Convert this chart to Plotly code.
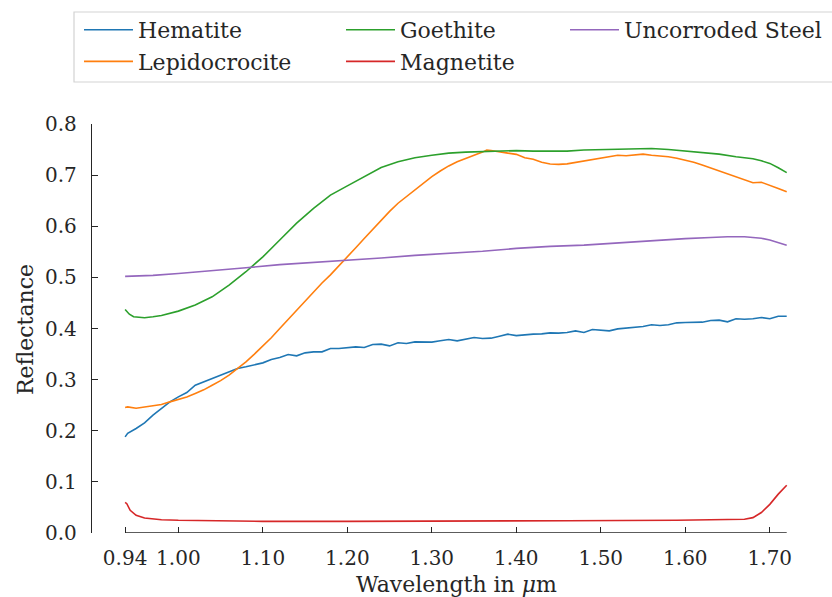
import plotly.graph_objects as go

# ---------------- data ----------------
wl_hem = [0.937, 0.94, 0.95, 0.96, 0.97, 0.98, 0.99, 1.00, 1.01, 1.02, 1.03, 1.04, 1.05, 1.06, 1.07, 1.08,
          1.09, 1.10, 1.11, 1.12, 1.13, 1.14, 1.15, 1.16, 1.17, 1.18, 1.19, 1.20, 1.21, 1.22, 1.23, 1.24,
          1.25, 1.26, 1.27, 1.28, 1.29, 1.30, 1.31, 1.32, 1.33, 1.34, 1.35, 1.36, 1.37, 1.38, 1.39, 1.40,
          1.41, 1.42, 1.43, 1.44, 1.45, 1.46, 1.47, 1.48, 1.49, 1.50, 1.51, 1.52, 1.53, 1.54, 1.55, 1.56,
          1.57, 1.58, 1.59, 1.60, 1.61, 1.62, 1.63, 1.64, 1.65, 1.66, 1.67, 1.68, 1.69, 1.70, 1.71, 1.72]
hematite = [0.188, 0.195, 0.2045, 0.2153, 0.2304, 0.2435, 0.2565, 0.2662, 0.2747, 0.289, 0.2956, 0.3034,
            0.3087, 0.3165, 0.3218, 0.3251, 0.3283, 0.3328, 0.3394, 0.3433, 0.3491, 0.3465, 0.3524, 0.3543,
            0.3543, 0.3609, 0.361, 0.3622, 0.3641, 0.3628, 0.3687, 0.3694, 0.366, 0.372, 0.3707, 0.3739,
            0.3733, 0.3733, 0.3759, 0.3785, 0.3759, 0.3785, 0.3824, 0.3805, 0.3811, 0.385, 0.3889, 0.386,
            0.388, 0.389, 0.3895, 0.3915, 0.391, 0.3922, 0.3954, 0.3922, 0.398, 0.397, 0.3954, 0.3993,
            0.401, 0.402, 0.404, 0.4072, 0.406, 0.4072, 0.4111, 0.4117, 0.412, 0.4124, 0.4157, 0.4163,
            0.413, 0.419, 0.418, 0.419, 0.4215, 0.419, 0.4241, 0.4241]

wl_lep = [0.937, 0.94, 0.95, 0.96, 0.97, 0.98, 0.99, 1.00, 1.01, 1.02, 1.03, 1.04, 1.05, 1.06, 1.07, 1.08,
          1.09, 1.10, 1.11, 1.12, 1.13, 1.14, 1.15, 1.16, 1.17, 1.18, 1.19, 1.20, 1.21, 1.22, 1.23, 1.24,
          1.25, 1.26, 1.27, 1.28, 1.29, 1.30, 1.31, 1.32, 1.33, 1.34, 1.35, 1.36, 1.365, 1.37, 1.38, 1.39,
          1.40, 1.41, 1.42, 1.43, 1.44, 1.45, 1.46, 1.47, 1.48, 1.49, 1.50, 1.51, 1.52, 1.53, 1.54, 1.55,
          1.56, 1.57, 1.58, 1.59, 1.60, 1.61, 1.62, 1.63, 1.64, 1.65, 1.66, 1.67, 1.68, 1.69, 1.70, 1.71, 1.72]
lepidocrocite = [0.2454, 0.2467, 0.244, 0.2467, 0.248, 0.2513, 0.2565, 0.2611, 0.266, 0.2728, 0.280, 0.289,
                 0.298, 0.3087, 0.321, 0.3347, 0.350, 0.3654, 0.382, 0.400, 0.418, 0.436, 0.454, 0.472,
                 0.489, 0.505, 0.522, 0.541, 0.558, 0.576, 0.594, 0.612, 0.629, 0.645, 0.658, 0.671,
                 0.685, 0.697, 0.708, 0.718, 0.726, 0.733, 0.739, 0.745, 0.749, 0.748, 0.745, 0.743,
                 0.7406, 0.734, 0.731, 0.725, 0.7217, 0.721, 0.722, 0.725, 0.7275, 0.731, 0.733, 0.736,
                 0.739, 0.738, 0.739, 0.741, 0.739, 0.738, 0.736, 0.733, 0.7295, 0.725, 0.7197, 0.714,
                 0.7086, 0.703, 0.698, 0.692, 0.685, 0.686, 0.6806, 0.674, 0.6675]

wl_goe = [0.937, 0.939, 0.942, 0.947, 0.96, 0.97, 0.98, 1.00, 1.02, 1.04, 1.06, 1.08, 1.10, 1.12, 1.14,
          1.16, 1.18, 1.20, 1.22, 1.24, 1.26, 1.28, 1.30, 1.32, 1.34, 1.36, 1.38, 1.40, 1.42, 1.44, 1.46,
          1.48, 1.50, 1.52, 1.54, 1.56, 1.58, 1.60, 1.62, 1.64, 1.66, 1.68, 1.69, 1.70, 1.71, 1.72]
goethite = [0.437, 0.434, 0.428, 0.423, 0.421, 0.423, 0.4255, 0.434, 0.446, 0.462, 0.485, 0.511, 0.540,
            0.573, 0.606, 0.635, 0.661, 0.679, 0.697, 0.715, 0.726, 0.734, 0.739, 0.743, 0.745, 0.746,
            0.747, 0.748, 0.747, 0.747, 0.747, 0.749, 0.750, 0.751, 0.752, 0.752, 0.750, 0.747, 0.744,
            0.741, 0.736, 0.732, 0.728, 0.723, 0.7145, 0.705]

wl_mag = [0.937, 0.939, 0.943, 0.95, 0.96, 0.97, 0.98, 1.00, 1.04, 1.10, 1.20, 1.30, 1.40, 1.46, 1.59,
          1.66, 1.67, 1.68, 1.69, 1.70, 1.71, 1.72]
magnetite = [0.060, 0.0574, 0.0444, 0.0346, 0.0294, 0.0274, 0.026, 0.0248, 0.0241, 0.0228, 0.0228,
             0.0228, 0.0235, 0.024, 0.0248, 0.0255, 0.027, 0.030, 0.040, 0.056, 0.076, 0.0934]

wl_steel = [0.937, 0.97, 1.00, 1.04, 1.08, 1.12, 1.16, 1.20, 1.24, 1.28, 1.32, 1.36, 1.40, 1.44, 1.48,
            1.52, 1.56, 1.60, 1.63, 1.65, 1.67, 1.68, 1.69, 1.70, 1.71, 1.72]
steel = [0.502, 0.504, 0.5077, 0.5128, 0.5187, 0.525, 0.529, 0.534, 0.538, 0.543, 0.547, 0.551, 0.5567,
         0.5606, 0.563, 0.5675, 0.5718, 0.5757, 0.578, 0.5795, 0.5795, 0.578, 0.5765, 0.573, 0.568, 0.563]

x_tickvals = [0.937, 1.00, 1.10, 1.20, 1.30, 1.40, 1.50, 1.60, 1.70]
x_ticktext = ["0.94", "1.00", "1.10", "1.20", "1.30", "1.40", "1.50", "1.60", "1.70"]
y_tickvals = [0.0, 0.1, 0.2, 0.3, 0.4, 0.5, 0.6, 0.7, 0.8]

# ---------------- figure ----------------
FONT = "DejaVu Serif"
INK = "#262626"
W, H = 832, 597
L, R, T, B = 92, 12, 124, 64          # plot area: x 92..820, y 124..533
X_RANGE = [0.8978, 1.7594]

series = [
    ("Hematite", wl_hem, hematite, "#1f77b4", "legend"),
    ("Lepidocrocite", wl_lep, lepidocrocite, "#ff7f0e", "legend"),
    ("Goethite", wl_goe, goethite, "#2ca02c", "legend2"),
    ("Magnetite", wl_mag, magnetite, "#d62728", "legend2"),
    ("Uncorroded Steel", wl_steel, steel, "#9467bd", "legend3"),
]

fig = go.Figure()
for name, xs, ys, col, leg in series:
    fig.add_trace(go.Scatter(x=xs, y=ys, mode="lines", name=name,
                             line=dict(color=col, width=1.6), legend=leg))

# bottom spine limited to the data span (matplotlib-style bounded spine)
fig.add_shape(type="line", xref="x", yref="y", x0=wl_hem[0], x1=wl_hem[-1], y0=0, y1=0,
              line=dict(color=INK, width=1.3), layer="above")

pw = W - L - R
ph = H - T - B
def px_to_paper_x(px):
    return (px - L) / pw
def py_to_paper_y(py):
    return (H - B - py) / ph

# legend frame (runs off the right edge like the reference)
fig.add_shape(type="rect", xref="paper", yref="paper",
              x0=px_to_paper_x(74), x1=px_to_paper_x(845),
              y0=py_to_paper_y(82), y1=py_to_paper_y(12),
              line=dict(color="#d3d3d3", width=1.2), fillcolor="white", layer="below")

# axis titles
fig.add_annotation(text="Wavelength in <i>μ</i>m", xref="paper", yref="paper",
                   x=0.5, y=py_to_paper_y(584), xanchor="center", yanchor="middle",
                   showarrow=False, font=dict(family=FONT, size=22, color=INK))
fig.add_annotation(text="Reflectance", xref="paper", yref="paper", textangle=-90,
                   x=px_to_paper_x(25), y=py_to_paper_y(330), xanchor="center", yanchor="middle",
                   showarrow=False, font=dict(family=FONT, size=22, color=INK))

leg_common = dict(font=dict(family=FONT, size=22, color=INK), bgcolor="rgba(0,0,0,0)",
                  borderwidth=0, xref="container", yref="container", xanchor="left",
                  yanchor="top", itemwidth=49, orientation="v")
fig.update_layout(
    width=W, height=H,
    margin=dict(l=L, r=R, t=T, b=B, autoexpand=False),
    paper_bgcolor="white", plot_bgcolor="white",
    font=dict(family=FONT, color=INK),
    showlegend=True,
    legend=dict(x=79 / W, y=1 - 9 / H, **leg_common),
    legend2=dict(x=341 / W, y=1 - 9 / H, **leg_common),
    legend3=dict(x=565 / W, y=1 - 9 / H, **leg_common),
    xaxis=dict(range=X_RANGE, tickvals=x_tickvals, ticktext=x_ticktext,
               ticks="inside", ticklen=6, tickwidth=1.3, tickcolor=INK, ticklabelstandoff=11,
               showline=False, showgrid=False, zeroline=False,
               tickfont=dict(family=FONT, size=20, color=INK)),
    yaxis=dict(range=[0, 0.8], tickvals=y_tickvals, tickformat=".1f",
               ticks="inside", ticklen=6, tickwidth=1.3, tickcolor=INK, ticklabelstandoff=10,
               showline=True, linecolor=INK, linewidth=1.3, mirror=False,
               showgrid=False, zeroline=False,
               tickfont=dict(family=FONT, size=20, color=INK)),
)

fig.write_html("out.html", config={"displayModeBar": False},
               post_script="document.body.style.margin='0';")
